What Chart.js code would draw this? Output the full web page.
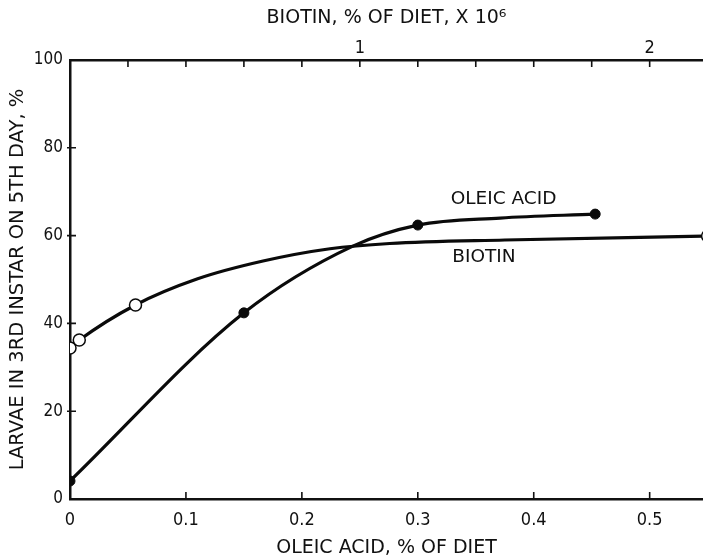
<!DOCTYPE html>
<html>
<head>
  <meta charset="utf-8">
  <title>Larvae in 3rd instar</title>
  <style>
    body {
      margin: 0;
      background: #fff;
    }
    .chart-box {
      position: relative;
      width: 703px;
      height: 558px;
    }
  </style>
</head>
<body>
  <div class="chart-box">
    <canvas id="larvaeChart"></canvas>
  </div>

  <script src="https://cdn.jsdelivr.net/npm/chart.js"></script>

  <script>
    // Oleic acid series (bottom axis, % of diet). Only the measured points get a marker.
    const oleicX = [0, 0.15, 0.244, 0.30, 0.371, 0.453];
    const oleicY = [4.1, 42.4, 57.6, 62.4, 64.0, 64.9];
    const oleicMeasured = [true, true, false, true, false, true];

    // Biotin series (top axis, % of diet x 10^6)
    const biotinX = [0, 0.032, 0.226, 0.438, 0.666, 0.897, 1.103, 1.5, 2.2];
    const biotinY = [34.4, 36.2, 44.2, 50.1, 54.2, 57.0, 58.2, 59.0, 59.9];
    const biotinMeasured = [true, true, true, false, false, false, false, false, true];

    const oleicTicks = [0, 0.1, 0.2, 0.3, 0.4, 0.5];
    const biotinLabels = [1, 2];
    const yTicks = [0, 20, 40, 60, 80, 100];

    const NARROW = "'DejaVu Sans Condensed', 'Liberation Sans Narrow', sans-serif";
    const WIDE = "'DejaVu Sans', sans-serif";

    function toPoints(xs, ys) {
      return xs.map((x, i) => ({ x: x, y: ys[i] }));
    }

    // Small inward tick marks on the three drawn axes, plus the curve labels
    const innerTicks = {
      id: 'innerTicks',
      afterDatasetsDraw(chart) {
        const ctx = chart.ctx;
        const area = chart.chartArea;
        const x = chart.scales.x;
        const x2 = chart.scales.x2;
        const y = chart.scales.y;
        ctx.save();
        ctx.strokeStyle = '#111';
        ctx.lineWidth = 1.6;
        ctx.beginPath();
        oleicTicks.slice(1).forEach(v => {
          const px = x.getPixelForValue(v);
          ctx.moveTo(px, area.bottom);
          ctx.lineTo(px, area.bottom - 7);
        });
        for (let k = 1; k <= 10; k++) {
          const px = x2.getPixelForValue(k * 0.2);
          ctx.moveTo(px, area.top);
          ctx.lineTo(px, area.top + 7);
        }
        yTicks.slice(1, -1).forEach(v => {
          const py = y.getPixelForValue(v);
          ctx.moveTo(area.left - 3, py);
          ctx.lineTo(area.left + 6, py);
        });
        ctx.stroke();

        ctx.fillStyle = '#111';
        ctx.font = '18.5px ' + WIDE;
        ctx.textAlign = 'center';
        ctx.textBaseline = 'middle';
        ctx.fillText('OLEIC ACID', x.getPixelForValue(0.374), y.getPixelForValue(68.4));
        ctx.fillText('BIOTIN', x.getPixelForValue(0.357), y.getPixelForValue(55.0));
        ctx.restore();
      }
    };

    const noSidePadding = s => { s.paddingLeft = 0; s.paddingRight = 0; };

    const ctx = document.getElementById('larvaeChart').getContext('2d');

    new Chart(ctx, {
      type: 'line',
      data: {
        datasets: [
          {
            label: 'Oleic acid',
            data: toPoints(oleicX, oleicY),
            xAxisID: 'x',
            borderColor: '#0a0a0a',
            borderWidth: 3.2,
            backgroundColor: '#0a0a0a',
            pointBackgroundColor: '#0a0a0a',
            pointBorderColor: '#0a0a0a',
            pointRadius: oleicMeasured.map(m => m ? 5 : 0),
            pointBorderWidth: 1,
            cubicInterpolationMode: 'monotone'
          },
          {
            label: 'Biotin',
            data: toPoints(biotinX, biotinY),
            xAxisID: 'x2',
            borderColor: '#0a0a0a',
            borderWidth: 3.2,
            pointBackgroundColor: '#fff',
            pointBorderColor: '#0a0a0a',
            pointRadius: biotinMeasured.map(m => m ? 6 : 0),
            pointBorderWidth: 1.5,
            cubicInterpolationMode: 'monotone'
          }
        ]
      },
      options: {
        responsive: true,
        maintainAspectRatio: false,
        animation: false,
        layout: { padding: 0, autoPadding: false },
        plugins: {
          legend: { display: false },
          tooltip: { enabled: false }
        },
        scales: {
          x: {
            type: 'linear',
            position: 'bottom',
            min: 0,
            max: 0.546,
            afterFit: s => { s.height = 59; noSidePadding(s); },
            grid: { display: false, drawTicks: false },
            border: { display: true, width: 2.5, color: '#111' },
            ticks: {
              stepSize: 0.1,
              includeBounds: false,
              padding: 11,
              color: '#111',
              font: { family: NARROW, size: 18 },
              maxRotation: 0,
              callback: v => {
                const r = Math.round(v * 10) / 10;
                return oleicTicks.includes(r) ? String(r) : '';
              }
            },
            title: {
              display: true,
              text: 'OLEIC ACID, % OF DIET',
              color: '#111',
              font: { family: WIDE, size: 19, lineHeight: 1 },
              padding: { top: 0, bottom: 0 }
            }
          },
          x2: {
            type: 'linear',
            position: 'top',
            min: 0,
            max: 2.184,
            afterFit: s => { s.height = 60; noSidePadding(s); },
            grid: { display: false, drawTicks: false },
            border: { display: true, width: 2.5, color: '#111' },
            ticks: {
              stepSize: 0.2,
              includeBounds: false,
              padding: 1,
              color: '#111',
              font: { family: NARROW, size: 18 },
              maxRotation: 0,
              autoSkip: false,
              callback: v => {
                const r = Math.round(v * 10) / 10;
                return biotinLabels.includes(r) ? String(r) : '';
              }
            },
            title: {
              display: true,
              text: 'BIOTIN, % OF DIET, X 10\u2076',
              color: '#111',
              font: { family: WIDE, size: 19 },
              padding: { top: 7, bottom: 0 }
            }
          },
          y: {
            min: 0,
            max: 100,
            afterFit: s => { s.width = 70; },
            grid: { display: false, drawTicks: false },
            border: { display: true, width: 2.5, color: '#111' },
            ticks: {
              stepSize: 20,
              padding: 7,
              color: '#111',
              font: { family: NARROW, size: 17 }
            },
            title: {
              display: true,
              text: 'LARVAE IN 3RD INSTAR ON 5TH DAY, %',
              color: '#111',
              font: { family: WIDE, size: 19.5 },
              padding: { top: 6, bottom: 0 }
            }
          }
        }
      },
      plugins: [innerTicks]
    });
  </script>
</body>
</html>
